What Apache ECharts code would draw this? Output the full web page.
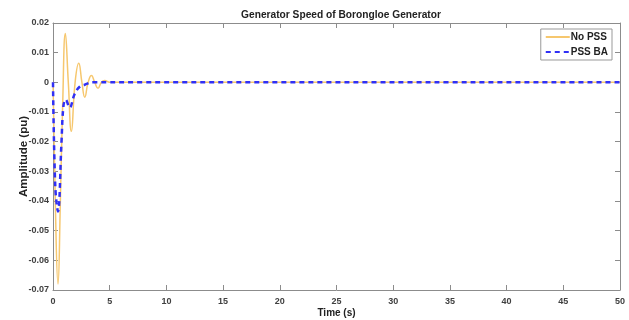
<!DOCTYPE html>
<html><head><meta charset="utf-8">
<script src="https://cdn.jsdelivr.net/npm/echarts@6/dist/echarts.min.js"></script>
<style>html,body{margin:0;padding:0;background:#fff}#c{width:629px;height:320px}</style>
</head><body><div id="c"></div>
<script>
const noPssTime = [0, 0.2, 0.44, 0.65, 0.85, 1.09, 1.35, 1.62, 1.95, 2.27, 2.55, 2.8, 3.1, 3.39, 3.68, 3.97, 4.27, 4.56, 5, 50];
const noPssVal  = [0, -0.04, -0.068, -0.04, -0.008, 0.0165, 0, -0.0165, 0, 0.0064, 0, -0.005, 0, 0.0023, 0, -0.002, 0, 0.0006, 0, 0];
const pssTime = [0, 0.2, 0.44, 0.75, 0.92, 1.12, 1.47, 1.9, 2.35, 2.8, 3.5, 5, 50];
const pssVal  = [0, -0.035, -0.0435, -0.02, -0.008, -0.0058, -0.0085, -0.004, -0.0015, -0.0008, 0, 0, 0];
const xTicks = {min: 0, max: 50, step: 5};
const yTicks = {min: -0.07, max: 0.02, step: 0.01};

const pair = (t, v) => t.map((x, i) => [x, v[i]]);
const fmtY = v => Math.abs(v) < 1e-9 ? '0' : v.toFixed(2);
const axisCol = '#8c8c8c';
const lab = {color: '#404040', fontSize: 9, fontWeight: 'bold', fontFamily: 'Liberation Sans'};
const line = {onZero: false, lineStyle: {color: axisCol}};
const tick = {show: true, inside: true, length: 5, lineStyle: {color: axisCol}};

const chart = echarts.init(document.getElementById('c'));
chart.setOption({
  animation: false,
  title: {text: 'Generator Speed of Borongloe Generator', left: 336, top: 5, textAlign: 'center',
    textStyle: {fontSize: 10.2, fontWeight: 'bold', color: '#222', fontFamily: 'Liberation Sans'}},
  legend: {right: 17, top: 29, orient: 'vertical', backgroundColor: '#fff', borderColor: '#999', borderWidth: 1,
    itemWidth: 24, itemHeight: 10, itemGap: 5, padding: [3, 4, 3, 4],
    itemStyle: {opacity: 0},
    textStyle: {fontSize: 10, fontWeight: 'bold', color: '#222', fontFamily: 'Liberation Sans', padding: [0,0,0,-4]},
    data: ['No PSS', 'PSS BA']},
  grid: {left: 53, right: 9, top: 23, bottom: 30, outerBoundsMode: 'none', containLabel: false},
  xAxis: [{type: 'value', min: xTicks.min, max: xTicks.max, interval: xTicks.step,
    name: 'Time (s)', nameLocation: 'middle', nameGap: 18, nameMoveOverlap: false,
    nameTextStyle: {fontSize: 10, fontWeight: 'bold', color: '#222', fontFamily: 'Liberation Sans'},
    axisLine: line, axisTick: tick,
    axisLabel: Object.assign({margin: 7}, lab), splitLine: {show: false}},
   {type: 'value', position: 'top', min: xTicks.min, max: xTicks.max, interval: xTicks.step,
    axisLine: line, axisTick: tick, axisLabel: {show: false}, splitLine: {show: false}}],
  yAxis: [{type: 'value', min: yTicks.min, max: yTicks.max, interval: yTicks.step,
    name: 'Amplitude (pu)', nameLocation: 'middle', nameGap: 23, nameRotate: 90, nameMoveOverlap: false,
    nameTextStyle: {fontSize: 11.5, fontWeight: 'bold', color: '#222', fontFamily: 'Liberation Sans'},
    axisLine: Object.assign({show: true}, line), axisTick: tick,
    axisLabel: Object.assign({formatter: fmtY, margin: 4}, lab), splitLine: {show: false}},
   {type: 'value', position: 'right', min: yTicks.min, max: yTicks.max, interval: yTicks.step,
    axisLine: Object.assign({show: true}, line), axisTick: tick,
    axisLabel: {show: false}, splitLine: {show: false}}],
  series: [
    {name: 'No PSS', type: 'line', symbol: 'none', smooth: 0.5, data: pair(noPssTime, noPssVal),
     lineStyle: {color: '#F6C76E', width: 1.5}, itemStyle: {color: '#F6C76E'}},
    {name: 'PSS BA', type: 'line', symbol: 'none', smooth: 0.4, data: pair(pssTime, pssVal),
     lineStyle: {color: '#3030F5', width: 2.5, type: [5, 4]}, itemStyle: {color: '#3030F5'}}
  ]
});
</script></body></html>
